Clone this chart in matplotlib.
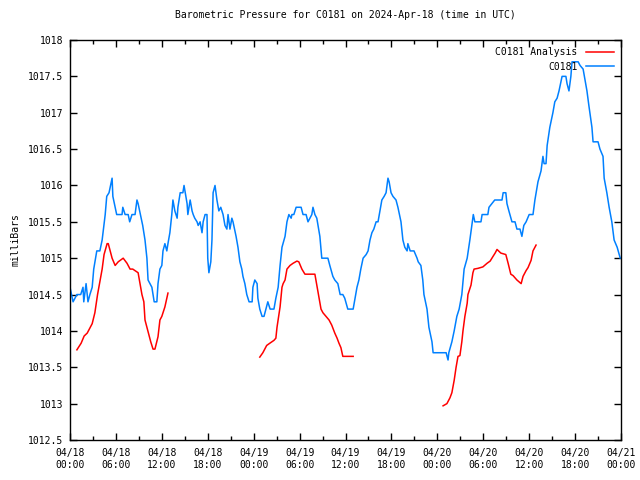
import numpy as np
import matplotlib
matplotlib.use('Agg')
import matplotlib.pyplot as plt
from matplotlib.ticker import MultipleLocator

# hours since 2024-04-18 00:00 UTC
obs_hours = [0.0, 0.4, 0.9, 1.4, 1.7, 1.8, 2.1, 2.35, 2.6, 2.9, 3.1, 3.5, 3.9, 4.2, 4.6, 4.8, 5.1, 5.5,
             5.6, 6.0, 6.1, 6.8, 6.9, 7.2, 7.6, 7.8, 8.1, 8.5, 8.75, 8.9, 9.3, 9.5, 9.8, 10.05, 10.2,
             10.45, 10.7, 11.0, 11.35, 11.5, 11.75, 12.0, 12.15, 12.4, 12.65, 12.8, 13.05, 13.3, 13.45,
             13.7, 14.0, 14.1, 14.4, 14.75, 14.9, 15.3, 15.4, 15.7, 15.95, 16.1, 16.3, 16.6, 16.75,
             17.0, 17.25, 17.4, 17.65, 17.9, 18.0, 18.15, 18.4, 18.55, 18.7, 18.95, 19.2, 19.45, 19.7,
             20.0, 20.25, 20.5, 20.65, 20.9, 21.15, 21.3, 21.7, 21.95, 22.2, 22.45, 22.6, 22.85, 23.1,
             23.4, 23.8, 23.9, 24.15, 24.45, 24.55, 24.8, 25.1, 25.35, 25.6, 25.85, 26.15, 26.65, 26.9,
             27.2, 27.45, 27.7, 28.1, 28.35, 28.6, 28.9, 29.0, 29.25, 29.55, 30.2, 30.45, 30.85, 31.1,
             31.35, 31.6, 31.75, 32.0, 32.25, 32.65, 32.9, 33.7, 33.95, 34.35, 34.6, 35.0, 35.3, 35.65,
             35.9, 36.3, 37.0, 37.25, 37.5, 37.75, 38.0, 38.3, 38.7, 38.95, 39.2, 39.45, 39.7, 40.0,
             40.25, 40.5, 40.75, 41.05, 41.3, 41.55, 41.7, 41.95, 42.2, 42.6, 42.85, 43.25, 43.5, 43.75,
             44.05, 44.15, 44.45, 44.95, 45.35, 45.5, 45.85, 46.1, 46.25, 46.65, 46.9, 47.3, 47.45,
             49.15, 49.4, 49.5, 49.9, 50.2, 50.55, 50.85, 51.2, 51.5, 51.9, 52.25, 52.5, 52.7, 52.9,
             53.7, 53.85, 54.6, 54.75, 55.5, 56.45, 56.6, 56.95, 57.1, 57.35, 57.75, 58.15, 58.4, 58.8,
             59.05, 59.3, 59.6, 60.0, 60.5, 60.75, 61.15, 61.55, 61.8, 61.95, 62.2, 62.35, 62.7, 63.1,
             63.35, 63.65, 63.9, 64.3, 64.8, 64.95, 65.2, 65.45, 65.6, 66.4, 66.65, 67.05, 67.3, 67.55,
             67.8, 68.2, 68.35, 69.0, 69.25, 69.65, 69.8, 70.15, 70.45, 70.8, 71.1, 71.5, 71.9]
obs_mb = [1014.6, 1014.4, 1014.5, 1014.5, 1014.6, 1014.4, 1014.65, 1014.4, 1014.5, 1014.6, 1014.85,
          1015.1, 1015.1, 1015.25, 1015.6, 1015.85, 1015.9, 1016.1, 1015.85, 1015.65, 1015.6, 1015.6,
          1015.7, 1015.6, 1015.6, 1015.5, 1015.6, 1015.6, 1015.8, 1015.75, 1015.55, 1015.45, 1015.25,
          1015.0, 1014.7, 1014.65, 1014.6, 1014.4, 1014.4, 1014.65, 1014.85, 1014.9, 1015.1, 1015.2,
          1015.1, 1015.2, 1015.35, 1015.6, 1015.8, 1015.65, 1015.55, 1015.7, 1015.9, 1015.9, 1016.0,
          1015.75, 1015.6, 1015.8, 1015.65, 1015.6, 1015.55, 1015.5, 1015.45, 1015.5, 1015.35, 1015.5,
          1015.6, 1015.6, 1015.0, 1014.8, 1014.95, 1015.25, 1015.9, 1016.0, 1015.8, 1015.65, 1015.7,
          1015.6, 1015.45, 1015.4, 1015.6, 1015.4, 1015.55, 1015.5, 1015.3, 1015.15, 1014.95, 1014.85,
          1014.75, 1014.65, 1014.5, 1014.4, 1014.4, 1014.6, 1014.7, 1014.65, 1014.45, 1014.3, 1014.2,
          1014.2, 1014.3, 1014.4, 1014.3, 1014.3, 1014.45, 1014.6, 1014.9, 1015.15, 1015.3, 1015.5,
          1015.6, 1015.55, 1015.6, 1015.6, 1015.7, 1015.7, 1015.6, 1015.6, 1015.5, 1015.55, 1015.6,
          1015.7, 1015.6, 1015.55, 1015.3, 1015.0, 1015.0, 1014.9, 1014.75, 1014.7, 1014.65, 1014.5,
          1014.5, 1014.45, 1014.3, 1014.3, 1014.45, 1014.6, 1014.7, 1014.85, 1015.0, 1015.05, 1015.1,
          1015.25, 1015.35, 1015.4, 1015.5, 1015.5, 1015.65, 1015.8, 1015.85, 1015.9, 1016.1, 1016.05,
          1015.9, 1015.85, 1015.8, 1015.7, 1015.5, 1015.25, 1015.15, 1015.1, 1015.2, 1015.1, 1015.1,
          1015.0, 1014.95, 1014.9, 1014.7, 1014.5, 1014.3, 1014.05, 1013.85, 1013.7, 1013.7, 1013.6,
          1013.7, 1013.85, 1014.0, 1014.2, 1014.3, 1014.5, 1014.85, 1015.0, 1015.25, 1015.45, 1015.6,
          1015.5, 1015.5, 1015.6, 1015.6, 1015.7, 1015.8, 1015.8, 1015.9, 1015.9, 1015.75, 1015.65,
          1015.5, 1015.5, 1015.4, 1015.4, 1015.3, 1015.45, 1015.5, 1015.6, 1015.6, 1015.8, 1016.05,
          1016.2, 1016.4, 1016.3, 1016.3, 1016.55, 1016.8, 1017.0, 1017.15, 1017.2, 1017.3, 1017.5,
          1017.5, 1017.4, 1017.3, 1017.5, 1017.7, 1017.7, 1017.65, 1017.6, 1017.45, 1017.3, 1017.1,
          1016.8, 1016.6, 1016.6, 1016.5, 1016.4, 1016.1, 1015.9, 1015.7, 1015.5, 1015.25, 1015.15,
          1015.0]

# analysis series, NaN marks the gaps
ana_hours = [0.9, 1.45, 1.85, 2.25, 2.6, 2.9, 3.25, 3.6, 4.2, 4.45, 4.85, 5.0, 5.5, 5.9, 6.3, 6.95,
             7.45, 7.85, 8.2, 8.9, 9.15, 9.4, 9.65, 9.8, 10.05, 10.3, 10.55, 10.85, 11.1, 11.5, 11.75,
             12.0, 12.4, 12.8, 18.0,
             24.8, 25.2, 25.7, 26.1, 26.65, 26.9, 27.05, 27.45, 27.7, 27.85, 28.1, 28.35, 28.75, 29.15,
             29.65, 29.9, 30.3, 30.7, 32.0, 32.3, 32.55, 32.8, 33.05, 33.45, 33.85, 34.2, 34.6, 34.9,
             35.15, 35.4, 35.65, 37.0, 42.0,
             48.75, 49.25, 49.65, 49.9, 50.2, 50.45, 50.7, 50.95, 51.2, 51.35, 51.6, 51.9, 52.0, 52.4,
             52.65, 52.8, 53.3, 53.95, 54.5, 54.9, 55.25, 55.55, 55.8, 56.3, 56.95, 57.25, 57.6, 57.9,
             58.4, 58.95, 59.2, 59.6, 59.85, 60.25, 60.5, 60.9]
ana_mb = [1013.74, 1013.83, 1013.93, 1013.97, 1014.04, 1014.1, 1014.25, 1014.5, 1014.85, 1015.05,
          1015.2, 1015.2, 1015.0, 1014.9, 1014.95, 1015.0, 1014.93, 1014.85, 1014.85, 1014.8, 1014.65,
          1014.5, 1014.4, 1014.15, 1014.05, 1013.95, 1013.85, 1013.75, 1013.75, 1013.92, 1014.15,
          1014.2, 1014.33, 1014.52, np.nan,
          1013.64, 1013.7, 1013.8, 1013.83, 1013.87, 1013.9, 1014.05, 1014.33, 1014.6, 1014.65, 1014.7,
          1014.85, 1014.9, 1014.93, 1014.96, 1014.95, 1014.85, 1014.78, 1014.78, 1014.6, 1014.45,
          1014.3, 1014.25, 1014.2, 1014.15, 1014.08, 1013.97, 1013.9, 1013.83, 1013.77, 1013.65,
          1013.65, np.nan,
          1012.97, 1013.0, 1013.08, 1013.15, 1013.32, 1013.5, 1013.65, 1013.66, 1013.85, 1014.0,
          1014.2, 1014.38, 1014.5, 1014.63, 1014.8, 1014.85, 1014.86, 1014.88, 1014.93, 1014.96,
          1015.02, 1015.07, 1015.12, 1015.07, 1015.05, 1014.93, 1014.78, 1014.76, 1014.7, 1014.65,
          1014.75, 1014.83, 1014.87, 1014.97, 1015.1, 1015.18]

xtick_hours = [0, 6, 12, 18, 24, 30, 36, 42, 48, 54, 60, 66, 72]
xtick_labels = ['04/18\n00:00', '04/18\n06:00', '04/18\n12:00', '04/18\n18:00',
                '04/19\n00:00', '04/19\n06:00', '04/19\n12:00', '04/19\n18:00',
                '04/20\n00:00', '04/20\n06:00', '04/20\n12:00', '04/20\n18:00',
                '04/21\n00:00']
ytick_vals = [1012.5, 1013, 1013.5, 1014, 1014.5, 1015, 1015.5, 1016, 1016.5, 1017, 1017.5, 1018]
ytick_labels = ['1012.5', '1013', '1013.5', '1014', '1014.5', '1015', '1015.5', '1016',
                '1016.5', '1017', '1017.5', '1018']

plt.rcParams['font.family'] = ['DejaVu Sans Mono']
plt.rcParams['font.size'] = 7

fig = plt.figure(figsize=(6.4, 4.8), dpi=100)
ax = fig.add_axes([70/640, 40/480, 551/640, 400/480])

ax.plot(ana_hours, ana_mb, color='#ff0000', lw=1.1, label='C0181 Analysis')
ax.plot(obs_hours, obs_mb, color='#0080ff', lw=1.1, label='C0181')

ax.set_xlim(0, 72)
ax.set_ylim(1012.5, 1018)
ax.set_xticks(xtick_hours)
ax.set_xticklabels(xtick_labels)
ax.xaxis.set_minor_locator(MultipleLocator(3))
ax.set_yticks(ytick_vals)
ax.set_yticklabels(ytick_labels)
ax.tick_params(which='both', direction='in', top=True, right=True, width=1, colors='black')
ax.tick_params(which='major', length=5, pad=5)
ax.tick_params(which='minor', length=3)
ax.tick_params(axis='x', which='major', pad=6)
for s in ax.spines.values():
    s.set_linewidth(1)

ax.set_ylabel('milliBars', fontsize=7, labelpad=5)
ax.set_title('Barometric Pressure for C0181 on 2024-Apr-18 (time in UTC)', fontsize=7, pad=16)

ax.legend(loc='upper right', frameon=False, markerfirst=False, fontsize=7, handlelength=2.9,
          handletextpad=0.8, labelspacing=0.45, borderaxespad=0.35)

plt.savefig('out.png', dpi=100)
